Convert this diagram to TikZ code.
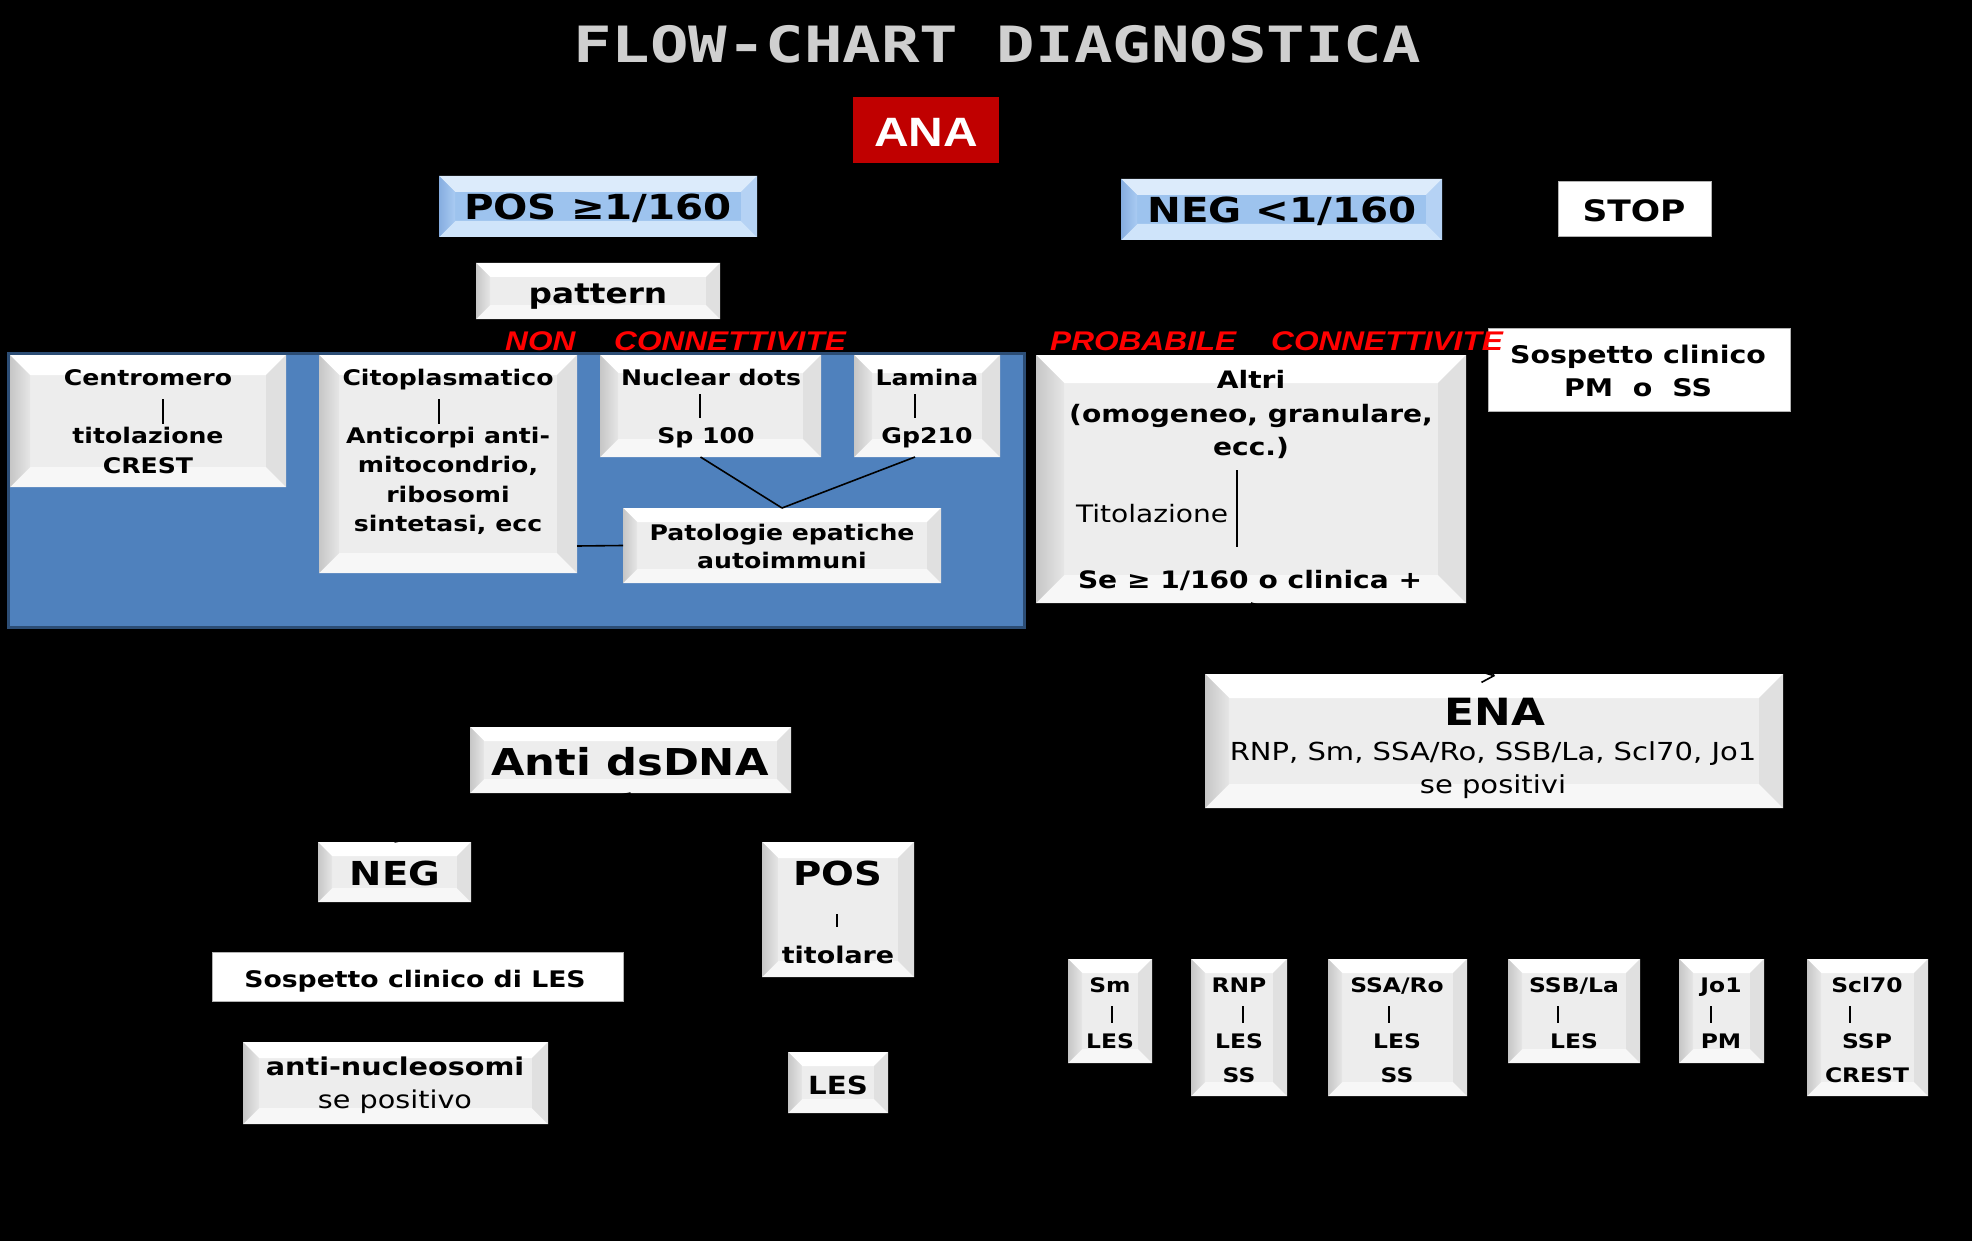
\documentclass[tikz,border=0pt]{standalone}
\usepackage{fontspec}
\setmainfont{DejaVu Sans}[FakeStretch=1.17]
\newfontfamily\arialf{Liberation Sans}[FakeStretch=1.17]
\newfontfamily\monof{DejaVu Sans Mono}[FakeStretch=1.28]
\usetikzlibrary{arrows.meta,calc}
\newcommand\fs[1]{\fontsize{#1}{#1}\selectfont}
\definecolor{gface}{HTML}{EDEDED}
\definecolor{gtop}{HTML}{FFFFFF}
\definecolor{glefta}{HTML}{C6C6C6}
\definecolor{gleftb}{HTML}{E6E6E6}
\definecolor{gright}{HTML}{E0E0E0}
\definecolor{gbot}{HTML}{F7F7F7}
\definecolor{bface}{HTML}{9DC3EE}
\definecolor{btop}{HTML}{DCEBFB}
\definecolor{blefta}{HTML}{86ADE0}
\definecolor{bleftb}{HTML}{A9CBF2}
\definecolor{bright}{HTML}{B5D2F4}
\definecolor{bbot}{HTML}{CFE4FA}
\definecolor{panelblue}{HTML}{4F81BD}
\definecolor{panelborder}{HTML}{2C4D75}
\definecolor{anared}{HTML}{C00000}
\definecolor{lblred}{HTML}{FF0000}
\definecolor{titlegray}{HTML}{CFCFCF}
\newcommand\bevbox[7]{%
 \fill[#7face] (#2,#3) rectangle (#4,#5);
 \fill[#7top] (#2,#3) -- (#4,#3) -- ({#4-#6},{#3+#6}) -- ({#2+#6},{#3+#6}) -- cycle;
 \fill[#7bot] (#2,#5) -- (#4,#5) -- ({#4-#6},{#5-#6}) -- ({#2+#6},{#5-#6}) -- cycle;
 \shade[left color=#7lefta, right color=#7leftb] (#2,#3) -- ({#2+#6},{#3+#6}) -- ({#2+#6},{#5-#6}) -- (#2,#5) -- cycle;
 \fill[#7right] (#4,#3) -- (#4,#5) -- ({#4-#6},{#5-#6}) -- ({#4-#6},{#3+#6}) -- cycle;
 \node[inner sep=0,outer sep=0,minimum width={(#4-#2)*1pt},minimum height={(#5-#3)*1pt}] (#1) at ({(#2+#4)/2},{(#3+#5)/2}) {};
}
\tikzset{
 txt/.style={anchor=base, inner sep=0, outer sep=0, text=black},
 bt/.style={txt, font=\fs{#1}\bfseries},
 rt/.style={txt, font=\fs{#1}},
 redlbl/.style={anchor=base west, inner sep=0, text=lblred, font=\arialf\fs{27}\bfseries\itshape},
 plainbox/.style={fill=white, draw=gray!60, line width=1pt, inner sep=0, outer sep=0},
 conn/.style={draw=black, line width=1.6pt},
 tick/.style={draw=black, line width=1.2pt},
}
\begin{document}
\begin{tikzpicture}[x=1pt,y=-1pt]
\useasboundingbox (0,0) rectangle (1972,1241);
\fill[black] (0,0) rectangle (1972,1241);

% title
\node[txt, text=titlegray, font=\monof\fs{50}\bfseries] (title) at (997,63) {FLOW-CHART DIAGNOSTICA};

% ANA
\node[fill=anared, inner sep=0, minimum width=146pt, minimum height=66pt] (ana) at (926,130) {};
\node[txt, text=white, font=\arialf\fs{41}\bfseries] (anat) at (926,147) {ANA};

% POS / NEG / STOP
\bevbox{posb}{439}{176}{757}{237}{16}{b}
\node[bt=34.5] (posbt) at (598,220) {POS ≥1/160};
\bevbox{negb}{1121}{179}{1442}{240}{16}{b}
\node[bt=34.5] (negbt) at (1282,223) {NEG <1/160};
\node[plainbox, minimum width=153pt, minimum height=55pt] (stop) at (1634.5,209.5) {};
\node[bt=29.5] (stopt) at (1634,222) {STOP};

% pattern
\bevbox{patt}{476}{263}{720}{319}{14}{g}
\node[bt=28] (pattt) at (598,303) {pattern};

% red labels
\node[redlbl] (lblnon) at (505,350) {NON};
\node[redlbl] (lblcon1) at (614,350) {CONNETTIVITE};
\node[redlbl] (lblprob) at (1050,350) {PROBABILE};

% blue panel
\node[fill=panelblue, draw=panelborder, line width=3pt, inner sep=0, minimum width=1016pt, minimum height=274pt] (panel) at (516,490) {};

% panel boxes
\bevbox{cen}{10}{355}{286}{487}{20}{g}
\node[bt=21.5] (cen1) at (148,385) {Centromero};
\node[bt=21.5] (cen2) at (148,443) {titolazione};
\node[bt=21.5] (cen3) at (148,473) {CREST};
\coordinate (cenA) at (163,399);
\coordinate (cenB) at (163,424);
\draw[tick] (cenA) -- (cenB);

\bevbox{cit}{319}{355}{577}{573}{20}{g}
\node[bt=21.5] (cit1) at (448,385) {Citoplasmatico};
\node[bt=21.5] (cit2) at (448,443) {Anticorpi anti-};
\node[bt=21.5] (cit3) at (448,472.5) {mitocondrio,};
\node[bt=21.5] (cit4) at (448,502) {ribosomi};
\node[bt=21.5] (cit5) at (448,531) {sintetasi, ecc};
\coordinate (citA) at (439,399);
\coordinate (citB) at (439,424);
\draw[tick] (citA) -- (citB);

\bevbox{nuc}{600}{355}{821}{457}{18}{g}
\node[bt=21.5] (nuc1) at (711,385) {Nuclear dots};
\node[bt=21.5] (nuc2) at (706,443) {Sp 100};
\coordinate (nucA) at (700,394);
\coordinate (nucB) at (700,418);
\draw[tick] (nucA) -- (nucB);

\bevbox{lam}{854}{355}{1000}{457}{18}{g}
\node[bt=21.5] (lam1) at (927,385) {Lamina};
\node[bt=21.5] (lam2) at (927,443) {Gp210};
\coordinate (lamA) at (915,394);
\coordinate (lamB) at (915,418);
\draw[tick] (lamA) -- (lamB);

\bevbox{pep}{623}{508}{941}{583}{14}{g}
\node[bt=21.5] (pep1) at (782,540) {Patologie epatiche};
\node[bt=21.5] (pep2) at (782,568) {autoimmuni};

\draw[conn] ([xshift=-10pt]nuc.south) -- (pep.north);
\draw[conn] ([xshift=-12pt]lam.south) -- (pep.north);
\draw[conn] ([yshift=-82pt]cit.east) -- (pep.west);

% Altri
\bevbox{alt}{1036}{355}{1466}{603}{28}{g}
\node[bt=24] (alt1) at (1251,388) {Altri};
\node[bt=24] (alt2) at (1251,422) {(omogeneo, granulare,};
\node[bt=24] (alt3) at (1251,455) {ecc.)};
\node[rt=24, anchor=base west] (alt4) at (1076,522) {Titolazione};
\coordinate (altA) at (1237,470);
\coordinate (altB) at (1237,547);
\draw[tick] (altA) -- (altB);
\node[bt=24] (alt5) at (1250,588) {Se ≥ 1/160 o clinica +};

% Sospetto clinico PM o SS
\node[plainbox, minimum width=302pt, minimum height=83pt] (sosp) at (1639,369.5) {};
\node[bt=24.3] (sosp1) at (1638,363) {Sospetto clinico};
\node[bt=24.3] (sosp2) at (1638,396) {PM\ \ o\ \ SS};

\node[redlbl] (lblcon2) at (1271,350) {CONNETTIVITE};

% ENA
\bevbox{ena}{1205}{674}{1783}{808}{24}{g}
\node[bt=37.5] (ena1) at (1495,725) {ENA};
\node[rt=24.8] (ena2) at (1493,760) {RNP, Sm, SSA/Ro, SSB/La, Scl70, Jo1};
\node[rt=24.8] (ena3) at (1493,793) {se positivi};
\coordinate (enaIn) at (1495,676);
\draw[conn, -{Straight Barb[length=10pt,width=20pt]}] (alt.south) -- (enaIn);

% Anti dsDNA branch
\bevbox{dsdna}{470}{727}{791}{793}{14}{g}
\node[bt=37] (dsdnat) at (630,775) {Anti dsDNA};
\bevbox{negd}{318}{842}{471}{902}{14}{g}
\node[bt=33] (negdt) at (395,885) {NEG};
\draw[conn] (dsdna.south) -- (negd.north);
\bevbox{posd}{762}{842}{914}{977}{16}{g}
\node[bt=33] (posdt) at (838,885) {POS};
\coordinate (posA) at (837,914);
\coordinate (posB) at (837,927);
\draw[tick] (posA) -- (posB);
\node[bt=23] (posdt2) at (838,963) {titolare};

\node[plainbox, minimum width=411pt, minimum height=49pt] (soles) at (417.5,976.5) {};
\node[bt=22.8] (solest) at (415,987) {Sospetto clinico di LES};

\bevbox{anuc}{243}{1042}{548}{1124}{16}{g}
\node[bt=24.5] (anuc1) at (395,1075) {anti-nucleosomi};
\node[rt=24.5] (anuc2) at (395,1108) {se positivo};

\bevbox{les}{788}{1052}{888}{1113}{14}{g}
\node[bt=25] (lest) at (838,1094) {LES};

% ENA result boxes
\bevbox{sm}{1068}{959}{1152}{1063}{14}{g}
\node[bt=20] (sm1) at (1110,992) {Sm};
\node[bt=20] (sm2) at (1110,1048) {LES};
\coordinate (smA) at (1112,1006);
\coordinate (smB) at (1112,1023);
\draw[tick] (smA) -- (smB);

\bevbox{rnp}{1191}{959}{1287}{1096}{14}{g}
\node[bt=20] (rnp1) at (1239,992) {RNP};
\node[bt=20] (rnp2) at (1239,1048) {LES};
\node[bt=20] (rnp3) at (1239,1082) {SS};
\coordinate (rnpA) at (1243,1006);
\coordinate (rnpB) at (1243,1023);
\draw[tick] (rnpA) -- (rnpB);

\bevbox{ssa}{1328}{959}{1467}{1096}{14}{g}
\node[bt=20] (ssa1) at (1397,992) {SSA/Ro};
\node[bt=20] (ssa2) at (1397,1048) {LES};
\node[bt=20] (ssa3) at (1397,1082) {SS};
\coordinate (ssaA) at (1389,1006);
\coordinate (ssaB) at (1389,1023);
\draw[tick] (ssaA) -- (ssaB);

\bevbox{ssb}{1508}{959}{1640}{1063}{14}{g}
\node[bt=20] (ssb1) at (1574,992) {SSB/La};
\node[bt=20] (ssb2) at (1574,1048) {LES};
\coordinate (ssbA) at (1558,1006);
\coordinate (ssbB) at (1558,1023);
\draw[tick] (ssbA) -- (ssbB);

\bevbox{jo}{1679}{959}{1764}{1063}{14}{g}
\node[bt=20] (jo1) at (1721,992) {Jo1};
\node[bt=20] (jo2) at (1721,1048) {PM};
\coordinate (joA) at (1711,1006);
\coordinate (joB) at (1711,1023);
\draw[tick] (joA) -- (joB);

\bevbox{scl}{1807}{959}{1928}{1096}{14}{g}
\node[bt=20] (scl1) at (1867,992) {Scl70};
\node[bt=20] (scl2) at (1867,1048) {SSP};
\node[bt=20] (scl3) at (1867,1082) {CREST};
\coordinate (sclA) at (1850,1006);
\coordinate (sclB) at (1850,1023);
\draw[tick] (sclA) -- (sclB);
\end{tikzpicture}
\end{document}
